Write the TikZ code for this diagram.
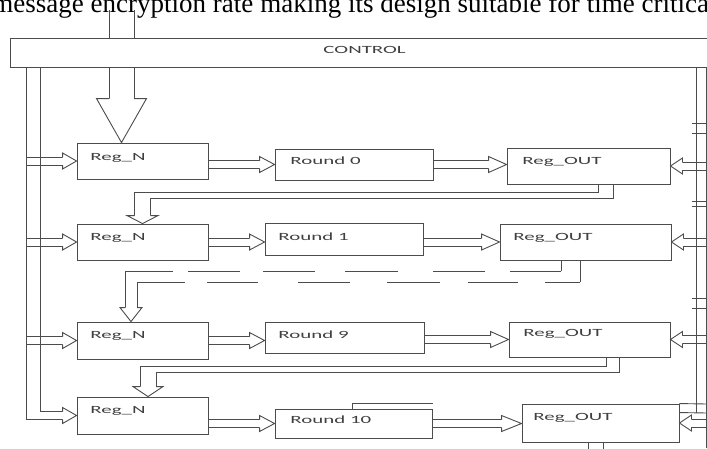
\documentclass[tikz,border=0pt]{standalone}
\usepackage{fontspec}
\setmainfont{Liberation Serif}
\newfontfamily\blkfont{Carlito}
\usetikzlibrary{calc}
\def\bw{4}
\def\bushead(#1)(#2)(#3)(#4){\draw[fill=white] ($(#1)+(#2)+(#4)$) -- ($(#1)+(#2)+(#3)$) -- (#1) -- ($(#1)+(#2)-(#3)$) -- ($(#1)+(#2)-(#4)$);}
\def\busarrow(#1)(#2)(#3){\draw ($(#1)+(0,-\bw)$) -- ($(#2)+(#3,-\bw)$) ($(#1)+(0,\bw)$) -- ($(#2)+(#3,\bw)$); \bushead(#2)(#3,0)(0,8)(0,\bw)}
\tikzset{
	blk/.style={draw, inner sep=0pt},
	lab/.style={font=\blkfont\fontsize{11}{13}\selectfont, text=black!75, inner sep=0pt, anchor=base west}
}

\begin{document}
\begin{tikzpicture}[x=1pt, y=-1pt, line width=0.9pt, color=black!70]
	%%%%% START %%%%%
	\useasboundingbox (0,0) rectangle (707,448);
	
	\node[anchor=base west, inner sep=0pt, text=black] (txt) at (-8,12) {\fontsize{27}{32}\selectfont\makebox[724pt][s]{message encryption rate making its design suitable for time critical}};
	
	% boxes
	\node[blk, minimum width=131, minimum height=36] (rn1) at (142.5,161) {};
	\node[blk, minimum width=131, minimum height=36] (rn2) at (142.5,242) {};
	\node[blk, minimum width=131, minimum height=37] (rn3) at (142.5,340.5) {};
	\node[blk, minimum width=131, minimum height=37] (rn4) at (142.5,415.5) {};
	\node[blk, minimum width=158, minimum height=31] (rd0) at (354,164.5) {};
	\node[blk, minimum width=158, minimum height=32] (rd1) at (344,239) {};
	\node[blk, minimum width=159, minimum height=31] (rd9) at (344.5,337.5) {};
	\node[blk, minimum width=157, minimum height=29] (rd10) at (353.5,423.5) {};
	\node[blk, minimum width=163, minimum height=36] (ro1) at (588.5,166) {};
	\node[blk, minimum width=171, minimum height=36] (ro2) at (585.5,242) {};
	\node[blk, minimum width=161, minimum height=35] (ro3) at (589.5,339.5) {};
	\node[blk, minimum width=157, minimum height=38] (ro4) at (600.5,423) {};
	
	\node[lab] (rn1t) at (90,160) {\scalebox{1.9}[1]{Reg\_N}};
	\node[lab] (rn2t) at (90,240.5) {\scalebox{1.9}[1]{Reg\_N}};
	\node[lab] (rn3t) at (90,338.5) {\scalebox{1.9}[1]{Reg\_N}};
	\node[lab] (rn4t) at (90,413.5) {\scalebox{1.9}[1]{Reg\_N}};
	\node[lab] (rd0t) at (290,164.5) {\scalebox{1.9}[1]{Round 0}};
	\node[lab] (rd1t) at (278,240.5) {\scalebox{1.9}[1]{Round 1}};
	\node[lab] (rd9t) at (278,338.5) {\scalebox{1.9}[1]{Round 9}};
	\node[lab] (rd10t) at (290,423.5) {\scalebox{1.9}[1]{Round 10}};
	\node[lab] (ro1t) at (522,164.5) {\scalebox{1.9}[1]{Reg\_OUT}};
	\node[lab] (ro2t) at (513,240.5) {\scalebox{1.9}[1]{Reg\_OUT}};
	\node[lab] (ro3t) at (523,336.5) {\scalebox{1.9}[1]{Reg\_OUT}};
	\node[lab] (ro4t) at (533,420.5) {\scalebox{1.9}[1]{Reg\_OUT}};
	
	% input from the top, then the control bar over it
	\coordinate (in) at (121.5,10);
	\coordinate (tin) at ($(rn1.north)+(-21,0)$);
	\draw ($(in)+(-12.5,0)$) -- ($(tin)+(-12.5,-44)$) ($(in)+(12.5,0)$) -- ($(tin)+(12.5,-44)$);
	\bushead(tin)(0,-44)(25,0)(12.5,0)
	\node[blk, fill=white, minimum width=702, minimum height=29] (ctrl) at (361,52.5) {};
	\node[lab] (ctrlt) at (323,53.5) {\scalebox{1.9}[1]{CONTROL}};
	
	% left bus
	\coordinate (lbo) at (26,67);
	\coordinate (lbi) at (40,67);
	\draw (lbo) |- ($(rn4.west)+(-14,\bw)$);
	\draw (lbi) |- ($(rn4.west)+(-14,-\bw)$);
	\bushead(rn4.west)(-14,0)(0,8)(0,\bw)
	\busarrow(lbo |- rn1.west)(rn1.west)(-14)
	\busarrow(lbo |- rn2.west)(rn2.west)(-14)
	\busarrow(lbo |- rn3.west)(rn3.west)(-14)
	
	% right bus
	\coordinate (rbo) at (707,67);
	\draw (696,67) -- (696,413);
	\draw (706,67) -- (706,448);
	\foreach \y in {123,133,201,206,298,308}
		\draw (692,\y) -- (707,\y);
	\draw (ro4.north east) -- (707,404);
	\draw ($(ro4.north east)+(0,9)$) -- (707,413);
	\busarrow(rbo |- ro1.east)(ro1.east)(12)
	\busarrow(rbo |- ro2.east)(ro2.east)(12)
	\busarrow(rbo |- ro3.east)(ro3.east)(12)
	\busarrow(rbo |- ro4.east)(ro4.east)(12)
	
	% rounds
	\busarrow(rn1.east |- rd0.west)(rd0.west)(-15)
	\busarrow(rn2.east)(rn2.east -| rd1.west)(-15)
	\busarrow(rn3.east)(rn3.east -| rd9.west)(-15)
	\busarrow(rn4.east |- rd10.west)(rd10.west)(-15)
	\busarrow(rd0.east)(rd0.east -| ro1.west)(-18)
	\busarrow(rd1.east |- ro2.west)(ro2.west)(-18)
	\busarrow(rd9.east |- ro3.west)(ro3.west)(-18)
	\busarrow(rd10.east)(rd10.east -| ro4.west)(-20)
	\draw ($(rd10.north)+(-1.5,0)$) |- ($(rd10.north east)+(1,-5)$);
	
	% feedback ro1 -> rn2
	\draw ($(ro1.south)+(9.5,0)$) |- (134.5,192) -- ($(rn2.north)+(-8,-8)$);
	\draw ($(ro1.south)+(24.5,0)$) |- (150.5,198) -- ($(rn2.north)+(8,-8)$);
	\bushead(rn2.north)(0,-8)(15.5,0)(8,0)
	
	% feedback ro2 -> rn3, broken
	\coordinate (t2) at ($(rn3.north)+(-11.5,0)$);
	\draw ($(ro2.south)+(-24.5,0)$) -- (561,271);
	\draw ($(ro2.south)+(-5.5,0)$) -- (580,282);
	\foreach \a/\b in {125/173,188/240,263/315,345/398,433/485,510/561}
		\draw (\a,271) -- (\b,271);
	\foreach \a/\b in {137/185,207/258,298/350,387/440,468/518,545/580}
		\draw (\a,282) -- (\b,282);
	\draw (125,271) -- ($(t2)+(-6,-14)$);
	\draw (137,282) -- ($(t2)+(6,-14)$);
	\bushead(t2)(0,-14)(11,0)(6,0)
	
	% feedback ro3 -> rn4
	\coordinate (t3) at ($(rn4.north)+(5.5,0)$);
	\draw ($(ro3.south)+(16.5,0)$) |- (140,366) -- ($(t3)+(-8,-10)$);
	\draw ($(ro3.south)+(29.5,0)$) |- (156,372) -- ($(t3)+(8,-10)$);
	\bushead(t3)(0,-10)(15,0)(8,0)
	
	% out of the last register
	\draw ($(ro4.south)+(-12.5,0)$) -- ++(0,8);
	\draw ($(ro4.south)+(2.5,0)$) -- ++(0,8);
	%%%%% END %%%%%
\end{tikzpicture}
\end{document}
